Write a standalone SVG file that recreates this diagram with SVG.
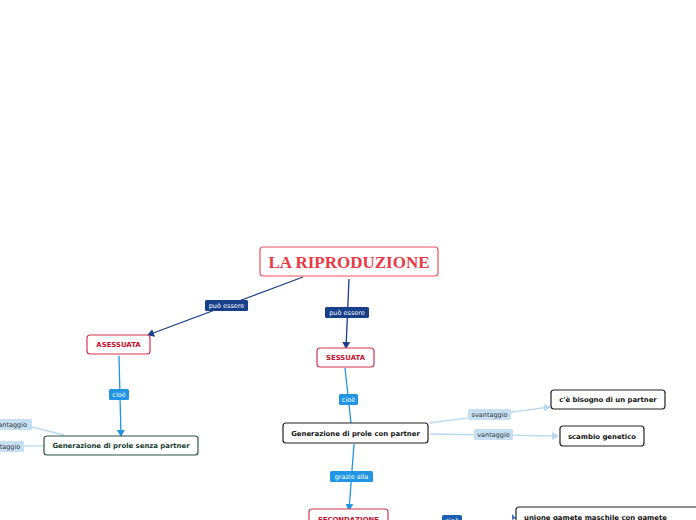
<svg xmlns="http://www.w3.org/2000/svg" width="696" height="520" viewBox="0 0 696 520">
<style>
.t{font-family:"DejaVu Sans",Verdana,sans-serif;font-weight:bold;text-anchor:middle}
.red{fill:#fff;stroke:#d0344d;stroke-width:1.2}
.redt{fill:#c8102e;font-size:6.9px}
.blk{fill:#fff;stroke:#222;stroke-width:1.2}
.blkt{fill:#111;font-size:6.9px}
.grn{fill:#fff;stroke:#2c5446;stroke-width:1.2}
.grnt{fill:#123a2c;font-size:6.9px}
.lbl{font-family:"DejaVu Sans",Verdana,sans-serif;font-size:6.5px;text-anchor:middle}
.dk{stroke:#173f8a;stroke-width:1.3;fill:none}
.lb{stroke:#2095e3;stroke-width:1.3;fill:none}
.pl{stroke:#b9d9f0;stroke-width:1.3;fill:none}
</style>
<defs>
<marker id="ad" markerWidth="8" markerHeight="8" refX="6" refY="4" orient="auto" markerUnits="userSpaceOnUse"><path d="M0,0 L7,4 L0,8 z" fill="#173f8a"/></marker>
<marker id="al" markerWidth="8" markerHeight="8" refX="6" refY="4" orient="auto" markerUnits="userSpaceOnUse"><path d="M0,0 L7,4 L0,8 z" fill="#2095e3"/></marker>
<marker id="ap" markerWidth="8" markerHeight="8" refX="6" refY="4" orient="auto" markerUnits="userSpaceOnUse"><path d="M0,0 L7,4 L0,8 z" fill="#b9d9f0"/></marker>
<linearGradient id="gf" x1="0" x2="1" y1="0" y2="0"><stop offset="0" stop-color="#3d78c0"/><stop offset="1" stop-color="#b9d0ea"/></linearGradient>
</defs>
<rect width="696" height="520" fill="#fff"/>
<g id="connectors">
<line class="dk" x1="303" y1="277" x2="148" y2="335" marker-end="url(#ad)"/>
<line class="dk" x1="349" y1="279" x2="346" y2="348" marker-end="url(#ad)"/>
<line class="lb" x1="119" y1="356" x2="121" y2="436" marker-end="url(#al)"/>
<line class="lb" x1="345" y1="368" x2="351" y2="423"/>
<line class="lb" x1="354" y1="444" x2="349" y2="510" marker-end="url(#al)"/>
<line class="pl" x1="430" y1="423" x2="550" y2="407" marker-end="url(#ap)"/>
<line class="pl" x1="430" y1="434" x2="558" y2="436" marker-end="url(#ap)"/>
<line class="pl" x1="64" y1="435" x2="20" y2="424"/>
<line class="pl" x1="44" y1="446" x2="20" y2="446"/>
<line x1="390" y1="519.5" x2="514" y2="519.5" stroke="url(#gf)" stroke-width="1.3"/>
<path d="M512,514 L516,518 L512,520 z" fill="#3d78c0"/>
<g>
<rect x="205" y="300" width="43" height="11" rx="1.5" fill="#173f8a"/>
<text class="lbl" x="226.5" y="308" fill="#fff">può essere</text>
<rect x="325" y="307" width="44" height="11" rx="1.5" fill="#173f8a"/>
<text class="lbl" x="347" y="315" fill="#fff">può essere</text>
<rect x="109" y="389" width="20" height="11" rx="1.5" fill="#2095e3"/>
<text class="lbl" x="119" y="397" fill="#fff">cioè</text>
<rect x="339" y="394" width="19" height="11" rx="1.5" fill="#2095e3"/>
<text class="lbl" x="348.5" y="402" fill="#fff">cioè</text>
<rect x="330" y="471" width="43" height="11" rx="1.5" fill="#2095e3"/>
<text class="lbl" x="351.5" y="479" fill="#fff">grazie alla</text>
<rect x="468" y="409" width="43" height="11" rx="1.5" fill="#c5e0f3"/>
<text class="lbl" x="489.5" y="417" fill="#333">svantaggio</text>
<rect x="474" y="429" width="39" height="11" rx="1.5" fill="#c5e0f3"/>
<text class="lbl" x="493.5" y="437" fill="#333">vantaggio</text>
<rect x="-14" y="419" width="46" height="11" rx="1.5" fill="#c5e0f3"/>
<text class="lbl" x="9" y="427" fill="#333">svantaggio</text>
<rect x="-16" y="441" width="40" height="11" rx="1.5" fill="#c5e0f3"/>
<text class="lbl" x="4" y="449" fill="#333">vantaggio</text>
<rect x="442" y="515" width="20" height="11" rx="1.5" fill="#1a5fb0"/>
<text class="lbl" x="452" y="523" fill="#fff">cioè</text>
</g>
</g>
<g id="root">
<rect x="260" y="247" width="178" height="29" rx="3" fill="#fff" stroke="#e8515f" stroke-width="1.2"/>
<text x="349" y="268" font-family="'Liberation Serif','Times New Roman',serif" font-weight="bold" font-size="17" fill="#e83a45" text-anchor="middle">LA RIPRODUZIONE</text>
</g>
<g id="asessuata">
<rect class="red" x="87" y="335" width="63" height="19" rx="3"/>
<text class="t redt" x="118.5" y="347.2">ASESSUATA</text>
</g>
<g id="sessuata">
<rect class="red" x="317" y="348" width="57" height="19" rx="3"/>
<text class="t redt" x="345.5" y="360.2">SESSUATA</text>
</g>
<g id="senza">
<rect class="grn" x="44" y="436" width="154" height="19" rx="3"/>
<text class="t grnt" x="121" y="448.2">Generazione di prole senza partner</text>
</g>
<g id="con">
<rect class="blk" x="283" y="423" width="145" height="20" rx="3"/>
<text class="t blkt" x="355.5" y="435.7">Generazione di prole con partner</text>
</g>
<g id="bisogno">
<rect class="blk" x="551" y="390" width="114" height="19" rx="3"/>
<text class="t blkt" x="608" y="402.2">c'è bisogno di un partner</text>
</g>
<g id="scambio">
<rect class="blk" x="560" y="426" width="84" height="20" rx="3"/>
<text class="t blkt" x="602" y="438.7">scambio genetico</text>
</g>
<g id="fecondazione">
<rect class="red" x="309" y="509" width="79" height="19" rx="3"/>
<text class="t redt" x="348.5" y="521.5">FECONDAZIONE</text>
</g>
<g id="unione">
<rect class="blk" x="516" y="507" width="190" height="20" rx="3"/>
<text class="t blkt" x="524" y="519.5" style="text-anchor:start">unione gamete maschile con gamete</text>
</g>
</svg>
